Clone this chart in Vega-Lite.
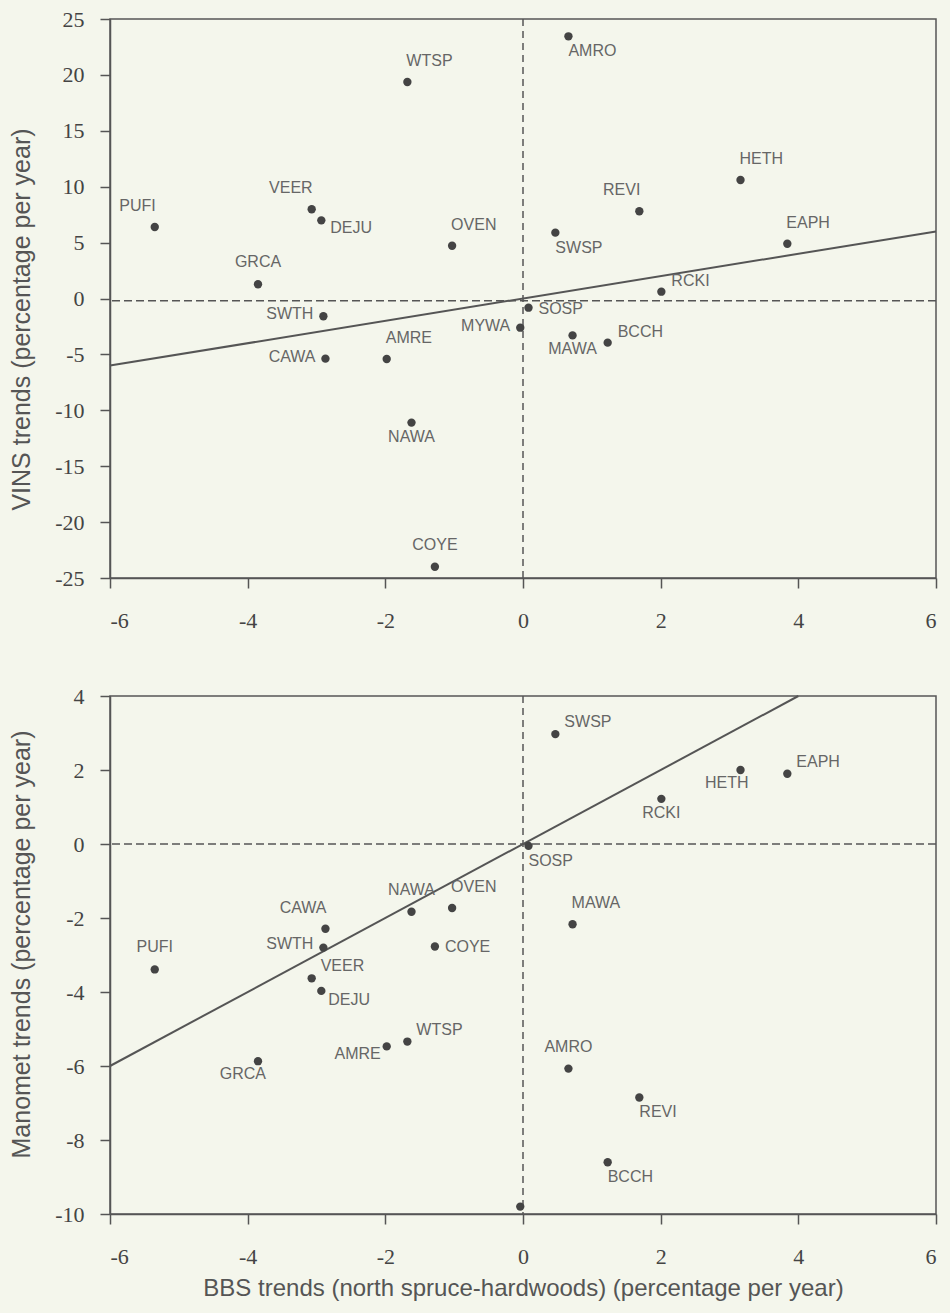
{
  "$schema": "https://vega.github.io/schema/vega-lite/v6.json",
  "background": "#f4f6ec",
  "padding": {"left": 8, "top": 7, "right": 12, "bottom": 12},
  "spacing": 52,
  "config": {
    "view": {"stroke": "#555555", "strokeWidth": 1.5},
    "axis": {
      "domainColor": "#555555", "domainWidth": 1.5,
      "tickColor": "#555555", "tickWidth": 1.5, "tickSize": 10,
      "grid": false,
      "labelFont": "Liberation Serif", "labelFontSize": 22, "labelColor": "#444444",
      "titleFont": "Liberation Sans", "titleFontWeight": "normal", "titleColor": "#555555",
      "labelExpr": "datum.value + ''"
    },
    "axisX": {"labelPadding": 22, "titleFontSize": 24, "titlePadding": 9},
    "axisY": {"labelPadding": 16, "titleFontSize": 25, "titlePadding": 20},
    "text": {"font": "Liberation Sans", "fontSize": 16, "color": "#666666", "baseline": "middle"}
  },
  "datasets": {
    "birds": [
      {"species": "PUFI", "bbs": -5.35, "vins": 6.4, "manomet": -3.39, "pt": "above-left", "pb": "above"},
      {"species": "GRCA", "bbs": -3.85, "vins": 1.27, "manomet": -5.87, "pt": "above", "pb": "below-left"},
      {"species": "VEER", "bbs": -3.07, "vins": 7.98, "manomet": -3.63, "pt": "above-left", "pb": "right-up"},
      {"species": "DEJU", "bbs": -2.93, "vins": 6.99, "manomet": -3.97, "pt": "right-down", "pb": "right-down"},
      {"species": "SWTH", "bbs": -2.9, "vins": -1.59, "manomet": -2.8, "pt": "left", "pb": "left"},
      {"species": "CAWA", "bbs": -2.87, "vins": -5.38, "manomet": -2.29, "pt": "left", "pb": "above-left"},
      {"species": "AMRE", "bbs": -1.98, "vins": -5.41, "manomet": -5.47, "pt": "above-right", "pb": "left-down"},
      {"species": "WTSP", "bbs": -1.68, "vins": 19.37, "manomet": -5.34, "pt": "above-right", "pb": "right-up"},
      {"species": "NAWA", "bbs": -1.62, "vins": -11.1, "manomet": -1.83, "pt": "below", "pb": "above"},
      {"species": "COYE", "bbs": -1.28, "vins": -23.99, "manomet": -2.77, "pt": "above", "pb": "right"},
      {"species": "OVEN", "bbs": -1.03, "vins": 4.72, "manomet": -1.73, "pt": "above-right", "pb": "above-right"},
      {"species": "MYWA", "bbs": -0.04, "vins": -2.61, "manomet": -9.8, "pt": "left", "pb": "none"},
      {"species": "SOSP", "bbs": 0.08, "vins": -0.82, "manomet": -0.05, "pt": "right", "pb": "below-right"},
      {"species": "SWSP", "bbs": 0.47, "vins": 5.89, "manomet": 2.97, "pt": "below-right", "pb": "right-up"},
      {"species": "AMRO", "bbs": 0.66, "vins": 23.45, "manomet": -6.07, "pt": "below-right", "pb": "above"},
      {"species": "MAWA", "bbs": 0.72, "vins": -3.3, "manomet": -2.17, "pt": "below", "pb": "above-right"},
      {"species": "BCCH", "bbs": 1.23, "vins": -3.95, "manomet": -8.6, "pt": "right-up", "pb": "below-right"},
      {"species": "REVI", "bbs": 1.69, "vins": 7.8, "manomet": -6.85, "pt": "above-left", "pb": "below-right"},
      {"species": "RCKI", "bbs": 2.01, "vins": 0.61, "manomet": 1.22, "pt": "right-up", "pb": "below"},
      {"species": "HETH", "bbs": 3.16, "vins": 10.6, "manomet": 2.0, "pt": "above-right", "pb": "below-left"},
      {"species": "EAPH", "bbs": 3.84, "vins": 4.9, "manomet": 1.9, "pt": "above-right", "pb": "right-up"}
    ],
    "topLine": [{"bbs": -6, "vins": -6}, {"bbs": 6, "vins": 6}],
    "bottomLine": [{"bbs": -6, "manomet": -6}, {"bbs": 4, "manomet": 4}],
    "topRef": [{"vx": 0, "hy": -0.2}],
    "bottomRef": [{"vx": 0, "hy": 0}]
  },
  "vconcat": [
    {
      "width": 826,
      "height": 559,
      "layer": [
        {
          "data": {"name": "topRef"},
          "mark": {"type": "rule", "strokeDash": [7, 5], "color": "#555555", "strokeWidth": 1.5},
          "encoding": {"x": {"field": "vx", "type": "quantitative", "title": null}}
        },
        {
          "data": {"name": "topRef"},
          "mark": {"type": "rule", "strokeDash": [8, 4], "color": "#555555", "strokeWidth": 1.5},
          "encoding": {"y": {"field": "hy", "type": "quantitative", "title": "VINS trends (percentage per year)"}}
        },
        {
          "data": {"name": "topLine"},
          "mark": {"type": "line", "color": "#555555", "strokeWidth": 2},
          "encoding": {
            "x": {"field": "bbs", "type": "quantitative", "title": null},
            "y": {"field": "vins", "type": "quantitative", "title": "VINS trends (percentage per year)"}
          }
        },
        {
          "data": {"name": "birds"},
          "mark": {"type": "circle", "size": 70, "color": "#444444", "opacity": 1},
          "encoding": {
            "x": {"field": "bbs", "type": "quantitative", "title": null,
                  "scale": {"domain": [-6, 6], "nice": false, "zero": false},
                  "axis": {"values": [-6, -4, -2, 0, 2, 4, 6]}},
            "y": {"field": "vins", "type": "quantitative", "title": "VINS trends (percentage per year)",
                  "scale": {"domain": [-25, 25], "nice": false, "zero": false},
                  "axis": {"values": [-25, -20, -15, -10, -5, 0, 5, 10, 15, 20, 25], "titleY": 300}}
          }
        },
        {
          "data": {"name": "birds"},
          "transform": [{"filter": "datum.pt === 'above'"}],
          "mark": {"type": "text", "align": "center", "dy": -22},
          "encoding": {"x": {"field": "bbs", "type": "quantitative", "title": null}, "y": {"field": "vins", "type": "quantitative", "title": "VINS trends (percentage per year)"}, "text": {"field": "species"}}
        },
        {
          "data": {"name": "birds"},
          "transform": [{"filter": "datum.pt === 'above-right'"}],
          "mark": {"type": "text", "align": "left", "dx": -1, "dy": -21},
          "encoding": {"x": {"field": "bbs", "type": "quantitative", "title": null}, "y": {"field": "vins", "type": "quantitative", "title": "VINS trends (percentage per year)"}, "text": {"field": "species"}}
        },
        {
          "data": {"name": "birds"},
          "transform": [{"filter": "datum.pt === 'above-left'"}],
          "mark": {"type": "text", "align": "right", "dx": 1, "dy": -21},
          "encoding": {"x": {"field": "bbs", "type": "quantitative", "title": null}, "y": {"field": "vins", "type": "quantitative", "title": "VINS trends (percentage per year)"}, "text": {"field": "species"}}
        },
        {
          "data": {"name": "birds"},
          "transform": [{"filter": "datum.pt === 'below'"}],
          "mark": {"type": "text", "align": "center", "dy": 14},
          "encoding": {"x": {"field": "bbs", "type": "quantitative", "title": null}, "y": {"field": "vins", "type": "quantitative", "title": "VINS trends (percentage per year)"}, "text": {"field": "species"}}
        },
        {
          "data": {"name": "birds"},
          "transform": [{"filter": "datum.pt === 'below-right'"}],
          "mark": {"type": "text", "align": "left", "dx": 0, "dy": 15},
          "encoding": {"x": {"field": "bbs", "type": "quantitative", "title": null}, "y": {"field": "vins", "type": "quantitative", "title": "VINS trends (percentage per year)"}, "text": {"field": "species"}}
        },
        {
          "data": {"name": "birds"},
          "transform": [{"filter": "datum.pt === 'right'"}],
          "mark": {"type": "text", "align": "left", "dx": 10, "dy": 1},
          "encoding": {"x": {"field": "bbs", "type": "quantitative", "title": null}, "y": {"field": "vins", "type": "quantitative", "title": "VINS trends (percentage per year)"}, "text": {"field": "species"}}
        },
        {
          "data": {"name": "birds"},
          "transform": [{"filter": "datum.pt === 'right-up'"}],
          "mark": {"type": "text", "align": "left", "dx": 10, "dy": -11},
          "encoding": {"x": {"field": "bbs", "type": "quantitative", "title": null}, "y": {"field": "vins", "type": "quantitative", "title": "VINS trends (percentage per year)"}, "text": {"field": "species"}}
        },
        {
          "data": {"name": "birds"},
          "transform": [{"filter": "datum.pt === 'right-down'"}],
          "mark": {"type": "text", "align": "left", "dx": 9, "dy": 8},
          "encoding": {"x": {"field": "bbs", "type": "quantitative", "title": null}, "y": {"field": "vins", "type": "quantitative", "title": "VINS trends (percentage per year)"}, "text": {"field": "species"}}
        },
        {
          "data": {"name": "birds"},
          "transform": [{"filter": "datum.pt === 'left'"}],
          "mark": {"type": "text", "align": "right", "dx": -10, "dy": -2},
          "encoding": {"x": {"field": "bbs", "type": "quantitative", "title": null}, "y": {"field": "vins", "type": "quantitative", "title": "VINS trends (percentage per year)"}, "text": {"field": "species"}}
        }
      ]
    },
    {
      "width": 826,
      "height": 518,
      "layer": [
        {
          "data": {"name": "bottomRef"},
          "mark": {"type": "rule", "strokeDash": [7, 5], "color": "#555555", "strokeWidth": 1.5},
          "encoding": {"x": {"field": "vx", "type": "quantitative", "title": "BBS trends (north spruce-hardwoods) (percentage per year)"}}
        },
        {
          "data": {"name": "bottomRef"},
          "mark": {"type": "rule", "strokeDash": [8, 4], "color": "#555555", "strokeWidth": 1.5},
          "encoding": {"y": {"field": "hy", "type": "quantitative", "title": "Manomet trends (percentage per year)"}}
        },
        {
          "data": {"name": "bottomLine"},
          "mark": {"type": "line", "color": "#555555", "strokeWidth": 2},
          "encoding": {
            "x": {"field": "bbs", "type": "quantitative", "title": "BBS trends (north spruce-hardwoods) (percentage per year)"},
            "y": {"field": "manomet", "type": "quantitative", "title": "Manomet trends (percentage per year)"}
          }
        },
        {
          "data": {"name": "birds"},
          "mark": {"type": "circle", "size": 70, "color": "#444444", "opacity": 1},
          "encoding": {
            "x": {"field": "bbs", "type": "quantitative", "title": "BBS trends (north spruce-hardwoods) (percentage per year)",
                  "scale": {"domain": [-6, 6], "nice": false, "zero": false},
                  "axis": {"values": [-6, -4, -2, 0, 2, 4, 6]}},
            "y": {"field": "manomet", "type": "quantitative", "title": "Manomet trends (percentage per year)",
                  "scale": {"domain": [-10, 4], "nice": false, "zero": false},
                  "axis": {"values": [-10, -8, -6, -4, -2, 0, 2, 4], "titleY": 248}}
          }
        },
        {
          "data": {"name": "birds"},
          "transform": [{"filter": "datum.pb === 'above'"}],
          "mark": {"type": "text", "align": "center", "dy": -22},
          "encoding": {"x": {"field": "bbs", "type": "quantitative", "title": "BBS trends (north spruce-hardwoods) (percentage per year)"}, "y": {"field": "manomet", "type": "quantitative", "title": "Manomet trends (percentage per year)"}, "text": {"field": "species"}}
        },
        {
          "data": {"name": "birds"},
          "transform": [{"filter": "datum.pb === 'above-right'"}],
          "mark": {"type": "text", "align": "left", "dx": -1, "dy": -21},
          "encoding": {"x": {"field": "bbs", "type": "quantitative", "title": "BBS trends (north spruce-hardwoods) (percentage per year)"}, "y": {"field": "manomet", "type": "quantitative", "title": "Manomet trends (percentage per year)"}, "text": {"field": "species"}}
        },
        {
          "data": {"name": "birds"},
          "transform": [{"filter": "datum.pb === 'above-left'"}],
          "mark": {"type": "text", "align": "right", "dx": 1, "dy": -21},
          "encoding": {"x": {"field": "bbs", "type": "quantitative", "title": "BBS trends (north spruce-hardwoods) (percentage per year)"}, "y": {"field": "manomet", "type": "quantitative", "title": "Manomet trends (percentage per year)"}, "text": {"field": "species"}}
        },
        {
          "data": {"name": "birds"},
          "transform": [{"filter": "datum.pb === 'below'"}],
          "mark": {"type": "text", "align": "center", "dy": 14},
          "encoding": {"x": {"field": "bbs", "type": "quantitative", "title": "BBS trends (north spruce-hardwoods) (percentage per year)"}, "y": {"field": "manomet", "type": "quantitative", "title": "Manomet trends (percentage per year)"}, "text": {"field": "species"}}
        },
        {
          "data": {"name": "birds"},
          "transform": [{"filter": "datum.pb === 'below-right'"}],
          "mark": {"type": "text", "align": "left", "dx": 0, "dy": 15},
          "encoding": {"x": {"field": "bbs", "type": "quantitative", "title": "BBS trends (north spruce-hardwoods) (percentage per year)"}, "y": {"field": "manomet", "type": "quantitative", "title": "Manomet trends (percentage per year)"}, "text": {"field": "species"}}
        },
        {
          "data": {"name": "birds"},
          "transform": [{"filter": "datum.pb === 'below-left'"}],
          "mark": {"type": "text", "align": "right", "dx": 8, "dy": 13},
          "encoding": {"x": {"field": "bbs", "type": "quantitative", "title": "BBS trends (north spruce-hardwoods) (percentage per year)"}, "y": {"field": "manomet", "type": "quantitative", "title": "Manomet trends (percentage per year)"}, "text": {"field": "species"}}
        },
        {
          "data": {"name": "birds"},
          "transform": [{"filter": "datum.pb === 'right'"}],
          "mark": {"type": "text", "align": "left", "dx": 10, "dy": 1},
          "encoding": {"x": {"field": "bbs", "type": "quantitative", "title": "BBS trends (north spruce-hardwoods) (percentage per year)"}, "y": {"field": "manomet", "type": "quantitative", "title": "Manomet trends (percentage per year)"}, "text": {"field": "species"}}
        },
        {
          "data": {"name": "birds"},
          "transform": [{"filter": "datum.pb === 'right-up'"}],
          "mark": {"type": "text", "align": "left", "dx": 9, "dy": -12},
          "encoding": {"x": {"field": "bbs", "type": "quantitative", "title": "BBS trends (north spruce-hardwoods) (percentage per year)"}, "y": {"field": "manomet", "type": "quantitative", "title": "Manomet trends (percentage per year)"}, "text": {"field": "species"}}
        },
        {
          "data": {"name": "birds"},
          "transform": [{"filter": "datum.pb === 'right-down'"}],
          "mark": {"type": "text", "align": "left", "dx": 7, "dy": 9},
          "encoding": {"x": {"field": "bbs", "type": "quantitative", "title": "BBS trends (north spruce-hardwoods) (percentage per year)"}, "y": {"field": "manomet", "type": "quantitative", "title": "Manomet trends (percentage per year)"}, "text": {"field": "species"}}
        },
        {
          "data": {"name": "birds"},
          "transform": [{"filter": "datum.pb === 'left'"}],
          "mark": {"type": "text", "align": "right", "dx": -10, "dy": -4},
          "encoding": {"x": {"field": "bbs", "type": "quantitative", "title": "BBS trends (north spruce-hardwoods) (percentage per year)"}, "y": {"field": "manomet", "type": "quantitative", "title": "Manomet trends (percentage per year)"}, "text": {"field": "species"}}
        },
        {
          "data": {"name": "birds"},
          "transform": [{"filter": "datum.pb === 'left-down'"}],
          "mark": {"type": "text", "align": "right", "dx": -6, "dy": 8},
          "encoding": {"x": {"field": "bbs", "type": "quantitative", "title": "BBS trends (north spruce-hardwoods) (percentage per year)"}, "y": {"field": "manomet", "type": "quantitative", "title": "Manomet trends (percentage per year)"}, "text": {"field": "species"}}
        }
      ]
    }
  ]
}
